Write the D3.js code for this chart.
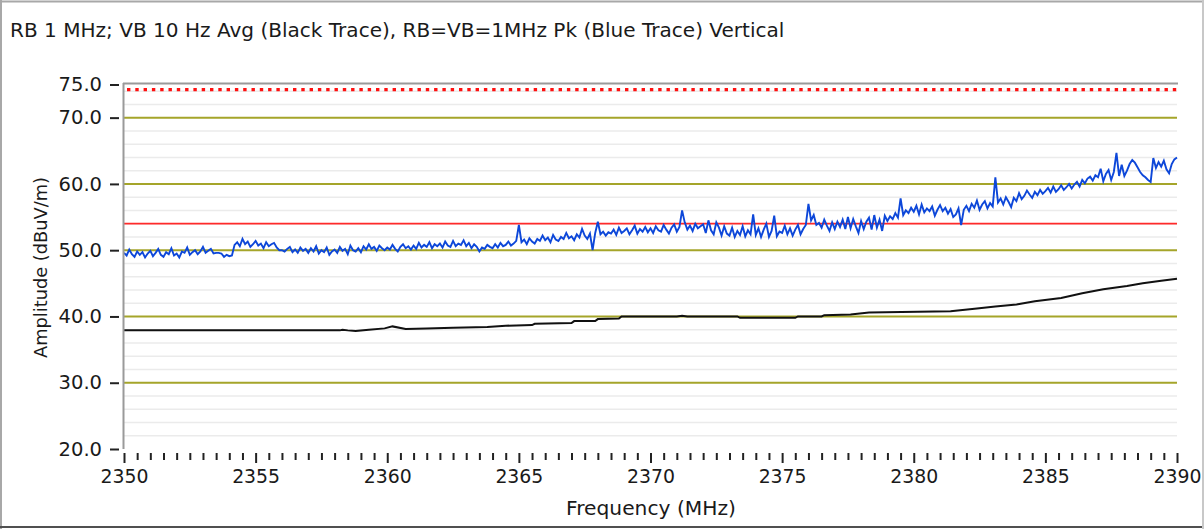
<!DOCTYPE html>
<html><head><meta charset="utf-8">
<script src="https://cdn.jsdelivr.net/npm/d3@7"></script>
<style>
body{margin:0;background:#fff}
svg{display:block}
text{font-family:"DejaVu Sans",sans-serif;fill:#1a1a1a}
</style>
</head><body>
<svg id="c" width="1204" height="529"></svg>
<script>
const titleText = "RB 1 MHz; VB 10 Hz Avg (Black Trace), RB=VB=1MHz Pk (Blue Trace) Vertical";
const xLabel = "Frequency (MHz)";
const yLabel = "Amplitude (dBuV/m)";
const xTickValues = [2350,2355,2360,2365,2370,2375,2380,2385,2390];
const yTickValues = [20,30,40,50,60,70,75];
const majorGrid = [30,40,50,60,70];
const minorGrid = [22,24,26,28,32,34,36,38,42,44,46,48,52,54,56,58,62,64,66,68,72,74];
const avgLimit = 54;
const peakLimit = 74;
const freqStart = 2350, freqStep = 0.1;

// Blue trace (peak), one value every 0.1 MHz from 2350 to 2390
const bluePeak = [
49.6,49.2,50.1,49.4,49.0,49.8,49.3,49.7,48.9,49.5,
49.9,49.1,49.6,50.2,49.3,49.0,49.7,49.4,50.3,49.2,
49.5,48.9,49.8,49.6,50.4,49.3,49.7,50.0,49.4,49.8,
50.5,49.6,49.9,50.2,49.5,49.6,49.6,49.5,49.0,49.3,
49.1,49.2,50.8,51.2,50.6,51.7,50.9,51.3,50.5,50.9,
51.4,50.7,51.0,50.3,51.2,50.6,50.9,51.1,50.4,50.0,
50.0,49.8,50.2,50.5,49.7,50.1,49.6,50.4,49.9,50.2,
49.6,50.3,49.8,50.6,49.5,50.0,49.7,50.4,49.3,49.8,
50.1,49.6,50.5,49.9,50.2,49.4,50.7,50.0,49.8,50.3,
49.7,50.6,50.1,50.9,50.2,50.5,49.9,50.7,50.3,50.0,
50.4,50.1,50.8,50.2,49.8,50.5,50.9,50.3,50.6,50.1,
50.7,50.2,51.1,50.4,50.8,50.5,51.2,50.3,50.9,50.6,
51.0,50.4,51.3,50.7,50.5,51.4,50.6,51.0,50.8,51.5,
50.6,51.1,50.3,50.9,50.5,49.8,50.4,50.2,50.8,50.5,
50.3,50.9,50.4,51.1,50.6,50.8,51.3,50.7,51.0,51.4,
53.8,51.2,51.6,50.9,51.8,51.3,51.0,51.7,51.4,52.2,
51.5,51.9,51.2,52.3,51.6,51.4,52.0,51.7,52.6,51.8,
52.1,51.5,52.4,51.9,53.2,52.2,51.7,52.5,50.0,52.6,
54.3,52.4,52.8,52.2,52.7,52.5,53.1,52.3,53.4,52.6,
52.9,53.3,52.4,53.0,53.7,52.5,53.2,52.8,53.5,52.7,
53.3,52.6,53.6,53.0,52.8,53.8,53.1,52.5,53.4,53.9,
52.8,53.5,56.0,54.2,53.1,53.7,52.9,54.0,53.3,53.6,
53.9,52.6,54.5,53.0,52.4,54.2,53.4,52.2,53.6,52.5,
52.2,53.4,52.0,52.9,52.3,53.6,52.1,53.0,52.4,55.4,
52.3,53.3,52.0,53.1,54.0,52.0,52.9,55.2,52.1,52.8,
52.6,53.7,52.4,53.3,52.2,53.1,53.8,52.4,53.2,53.8,
57.0,54.5,55.3,53.8,54.1,53.4,54.6,53.7,52.9,54.2,
53.2,54.3,53.5,54.6,53.2,55.0,53.3,54.7,53.6,52.6,
54.4,53.2,54.3,54.9,53.1,55.3,53.4,54.6,52.9,55.2,
54.4,55.1,54.7,55.6,54.9,57.8,55.3,56.0,55.6,56.4,
55.8,56.7,55.4,56.9,55.7,56.3,55.9,56.6,55.2,56.1,
56.8,55.9,56.4,55.5,56.2,55.0,55.4,56.3,53.8,56.1,
56.7,55.9,57.0,56.4,57.5,56.1,56.9,57.4,56.3,57.1,
56.6,61.0,57.2,57.8,56.9,58.0,57.3,56.5,57.9,57.4,
58.6,57.7,58.2,59.0,58.4,57.9,58.8,58.3,59.1,58.5,
58.9,59.4,58.7,59.6,58.8,59.2,59.8,59.1,59.5,60.0,
59.3,59.9,60.3,59.6,60.6,60.1,60.8,61.1,60.5,61.3,
61.0,62.3,60.4,61.5,62.1,60.6,61.8,64.7,61.2,62.9,
61.2,62.0,63.0,63.6,63.2,62.5,61.8,61.3,61.0,60.6,
60.3,63.9,62.4,63.3,62.6,63.5,62.2,61.6,63.0,63.7,
64.0
];

// Black trace (average)
const blackFreq = [2350,2358.2,2358.3,2358.5,2358.8,2359.3,2359.9,2360.2,2360.7,2361.5,2362.5,2363.8,2364.5,2365.5,2365.6,2367,2367.1,2367.9,2368,2368.8,2368.9,2371,2371.2,2371.4,2373.3,2373.4,2375.5,2375.6,2376.5,2376.6,2377.6,2378.3,2381.4,2382.4,2383.1,2383.9,2384.6,2385.6,2386.4,2387.2,2388.1,2388.7,2389.4,2390];
const blackAvg  = [37.9,37.9,38.0,37.9,37.8,38.0,38.2,38.5,38.1,38.2,38.3,38.4,38.6,38.7,38.9,39.0,39.3,39.3,39.6,39.7,40.0,40.0,40.1,40.0,40.0,39.8,39.8,40.0,40.0,40.2,40.3,40.6,40.8,41.2,41.5,41.8,42.3,42.8,43.5,44.1,44.6,45.0,45.4,45.7];

const svg = d3.select("#c");
const x = d3.scaleLinear().domain([2350,2390]).range([124,1177]);
const y = d3.scaleLinear().domain([20,75]).range([449,84.5]);

function fitFont(sel, target){
  const n = sel.node();
  const fs = parseFloat(sel.attr("font-size"));
  const w = n.getComputedTextLength();
  return fs*target/w;
}

// outer frame
svg.append("line").attr("x1",0).attr("x2",1204).attr("y1",1.5).attr("y2",1.5).attr("stroke","#a8a8a8").attr("stroke-width",2);
svg.append("line").attr("x1",1).attr("x2",1).attr("y1",0).attr("y2",529).attr("stroke","#a8a8a8").attr("stroke-width",2);
svg.append("line").attr("x1",0).attr("x2",1204).attr("y1",527).attr("y2",527).attr("stroke","#505050").attr("stroke-width",2);
svg.append("line").attr("x1",1203).attr("x2",1203).attr("y1",0).attr("y2",529).attr("stroke","#c8c8c8").attr("stroke-width",2);

// title
const t = svg.append("text").attr("x",10).attr("y",37).attr("font-size",16).text(titleText);
t.attr("font-size", fitFont(t, 775));

// grids
svg.append("g").selectAll("line").data(minorGrid).join("line")
  .attr("x1",x(2350)).attr("x2",x(2390)).attr("y1",d=>y(d)).attr("y2",d=>y(d))
  .attr("stroke","#ebebeb").attr("stroke-width",1.5);
svg.append("g").selectAll("line").data(majorGrid).join("line")
  .attr("x1",x(2350)).attr("x2",x(2390)).attr("y1",d=>y(d)).attr("y2",d=>y(d))
  .attr("stroke","#a5a52a").attr("stroke-width",2);

// limits
svg.append("line").attr("x1",x(2350)+3).attr("x2",x(2390)).attr("y1",y(peakLimit)-1.5).attr("y2",y(peakLimit)-1.5)
  .attr("stroke","#ff1010").attr("stroke-width",3.2).attr("stroke-dasharray","3.4,4.9");
svg.append("line").attr("x1",x(2350)).attr("x2",x(2390)).attr("y1",y(avgLimit)).attr("y2",y(avgLimit))
  .attr("stroke","#ff2a2a").attr("stroke-width",1.8);

// traces
const blackData = blackFreq.map((f,i)=>[f,blackAvg[i]]);
svg.append("path").datum(blackData)
  .attr("fill","none").attr("stroke","#111").attr("stroke-width",2)
  .attr("d", d3.line().x(d=>x(d[0])).y(d=>y(d[1])));
const blueData = bluePeak.map((v,i)=>[freqStart+i*freqStep, v]);
svg.append("path").datum(blueData)
  .attr("fill","none").attr("stroke","#0d47d9").attr("stroke-width",1.9)
  .attr("d", d3.line().x(d=>x(d[0])).y(d=>y(d[1])));

// plot border (top and left)
svg.append("line").attr("x1",x(2350)-1).attr("x2",x(2390)+1).attr("y1",83.5).attr("y2",83.5).attr("stroke","#9a9a9a").attr("stroke-width",2);
svg.append("line").attr("x1",x(2350)-0.5).attr("x2",x(2350)-0.5).attr("y1",83).attr("y2",449).attr("stroke","#9a9a9a").attr("stroke-width",2);

// y axis
const yAxis = svg.append("g").attr("transform","translate(119,0)")
  .call(d3.axisLeft(y).tickValues(yTickValues).tickFormat(d3.format(".1f")).tickSize(9).tickPadding(8));
yAxis.select(".domain").remove();
yAxis.selectAll(".tick line").attr("stroke","#222").attr("stroke-width",2);
const ySample = yAxis.select(".tick text").attr("font-size",16);
const yfs = fitFont(ySample, 43.5);
yAxis.selectAll(".tick text").attr("font-size",yfs).attr("font-family","DejaVu Sans").attr("fill","#1a1a1a");

// x axis minor ticks
const minorX = d3.range(0,81).map(i=>2350+i*0.5).filter(v=>xTickValues.indexOf(v)<0);
const xMinor = svg.append("g").attr("transform","translate(0,453)")
  .call(d3.axisBottom(x).tickValues(minorX).tickSize(7).tickFormat(""));
xMinor.select(".domain").remove();
xMinor.selectAll(".tick line").attr("stroke","#222").attr("stroke-width",2);
const xAxis = svg.append("g").attr("transform","translate(0,453)")
  .call(d3.axisBottom(x).tickValues(xTickValues).tickSize(10).tickPadding(7).tickFormat(d3.format("d")));
xAxis.select(".domain").remove();
xAxis.selectAll(".tick line").attr("stroke","#222").attr("stroke-width",2);
const xSample = xAxis.select(".tick text").attr("font-size",16);
const xfs = fitFont(xSample, 48);
xAxis.selectAll(".tick text").attr("font-size",xfs).attr("font-family","DejaVu Sans").attr("fill","#1a1a1a");

// axis titles
const xl = svg.append("text").attr("x",651).attr("y",515).attr("text-anchor","middle").attr("font-size",16).text(xLabel);
xl.attr("font-size", fitFont(xl, 170));
const yl = svg.append("text").attr("transform","translate(47,267.5) rotate(-90)").attr("text-anchor","middle").attr("font-size",16).text(yLabel);
yl.attr("font-size", fitFont(yl, 181));
</script>
</body></html>
